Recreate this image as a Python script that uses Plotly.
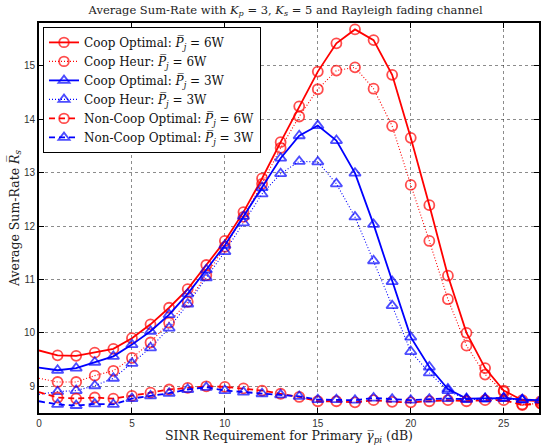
import plotly.graph_objects as go

x_db = list(range(0, 28))

coop_opt_6w = [9.67, 9.58, 9.57, 9.63, 9.70, 9.90, 10.16, 10.47, 10.82, 11.27, 11.72, 12.26, 12.89, 13.57,
               14.24, 14.89, 15.42, 15.68, 15.48, 14.83, 13.65, 12.39, 11.07, 10.00, 9.34, 8.92, 8.74, 8.72]
coop_heur_6w = [9.15, 9.08, 9.08, 9.20, 9.29, 9.53, 9.82, 10.19, 10.58, 11.08, 11.61, 12.17, 12.79, 13.46,
                14.05, 14.56, 14.91, 14.97, 14.57, 13.87, 12.77, 11.72, 10.63, 9.76, 9.22, 8.90, 8.66, 8.68]
coop_opt_3w = [9.35, 9.30, 9.34, 9.45, 9.56, 9.78, 10.03, 10.34, 10.73, 11.18, 11.64, 12.18, 12.72, 13.27,
               13.69, 13.88, 13.60, 12.99, 12.03, 10.96, 9.92, 9.36, 8.95, 8.77, 8.77, 8.78, 8.75, 8.74]
coop_heur_3w = [8.85, 8.90, 8.92, 9.01, 9.15, 9.43, 9.72, 10.09, 10.54, 11.03, 11.52, 12.06, 12.60, 12.98,
                13.21, 13.20, 12.79, 12.17, 11.35, 10.51, 9.65, 9.25, 8.92, 8.75, 8.76, 8.77, 8.74, 8.73]
noncoop_opt_6w = [8.89, 8.79, 8.77, 8.79, 8.77, 8.82, 8.88, 8.94, 8.97, 9.00, 8.99, 8.96, 8.92, 8.86,
                  8.80, 8.72, 8.72, 8.70, 8.74, 8.71, 8.70, 8.72, 8.74, 8.72, 8.74, 8.74, 8.65, 8.68]
noncoop_opt_3w = [8.72, 8.66, 8.64, 8.67, 8.66, 8.77, 8.82, 8.87, 8.94, 8.98, 8.92, 8.89, 8.86, 8.84,
                  8.81, 8.75, 8.75, 8.74, 8.78, 8.76, 8.74, 8.76, 8.77, 8.76, 8.77, 8.78, 8.75, 8.74]

x_ticks = [0, 5, 10, 15, 20, 25]
y_ticks = [9, 10, 11, 12, 13, 14, 15]

PJ = "<i>P\u0305</i><sub><i>j</i></sub>"
series = [
    ("Coop Optimal: " + PJ + " = 6W", coop_opt_6w, "#ff0000", "solid", "circle-open", 1.8),
    ("Coop Heur: " + PJ + " = 6W", coop_heur_6w, "#ff0000", "1px,2px", "circle-open", 1.1),
    ("Coop Optimal: " + PJ + " = 3W", coop_opt_3w, "#0000ff", "solid", "triangle-up-open", 1.8),
    ("Coop Heur: " + PJ + " = 3W", coop_heur_3w, "#0000ff", "1px,2px", "triangle-up-open", 1.1),
    ("Non-Coop Optimal: " + PJ + " = 6W", noncoop_opt_6w, "#ff0000", "6px,4px", "circle-open", 1.8),
    ("Non-Coop Optimal: " + PJ + " = 3W", noncoop_opt_3w, "#0000ff", "6px,4px", "triangle-up-open", 1.8),
]

fig = go.Figure()
for name, ys, col, dash, sym, lw in series:
    sizes = [0] + [10] * (len(x_db) - 1)
    fig.add_trace(go.Scatter(
        x=x_db, y=ys, name=name, mode="lines+markers",
        line=dict(color=col, width=lw, dash=dash),
        marker=dict(symbol=sym, size=sizes, color=col, line=dict(color=col, width=1.8)),
    ))

serif = "DejaVu Serif"
sans = "Liberation Sans"
fig.update_layout(
    width=541, height=445,
    margin=dict(l=39, r=0, t=23, b=32),
    paper_bgcolor="white", plot_bgcolor="white",
    title=dict(text="Average Sum-Rate with <i>K</i><sub><i>p</i></sub> = 3, <i>K</i><sub><i>s</i></sub> = 5 and Rayleigh fading channel",
               x=0.528, xanchor="center", y=0.978, yanchor="middle",
               font=dict(family=serif, size=11.5, color="#222")),
    font=dict(family=sans, size=10, color="#222"),
    showlegend=True,
    legend=dict(x=0.008, y=0.99, xanchor="left", yanchor="top",
                bgcolor="white", bordercolor="black", borderwidth=1,
                font=dict(family=serif, size=12, color="#111"),
                tracegroupgap=0, itemwidth=30),
    xaxis=dict(range=[0, 26.9], tickvals=x_ticks, ticks="inside", ticklen=5, tickcolor="black",
               showline=True, linecolor="black", linewidth=2, mirror="ticks",
               showgrid=True, gridcolor="rgba(0,0,0,0.45)", griddash="dot", gridwidth=1,
               zeroline=False, tickfont=dict(family=sans, size=10, color="#333"),
               title=dict(text="SINR Requirement for Primary <i>\u03b3\u0305</i><sub><i>pi</i></sub> (dB)",
                          font=dict(family=serif, size=12.5, color="#222"), standoff=4)),
    yaxis=dict(range=[8.5, 15.8], tickvals=y_ticks, ticks="inside", ticklen=5, tickcolor="black",
               showline=True, linecolor="black", linewidth=2, mirror="ticks",
               showgrid=True, gridcolor="rgba(0,0,0,0.45)", griddash="dot", gridwidth=1,
               zeroline=False, tickfont=dict(family=sans, size=10, color="#333"),
               title=dict(text="Average Sum-Rate <i>R\u0305</i><sub><i>s</i></sub>",
                          font=dict(family=serif, size=12.5, color="#222"), standoff=2)),
)

fig.write_html("out.html")
